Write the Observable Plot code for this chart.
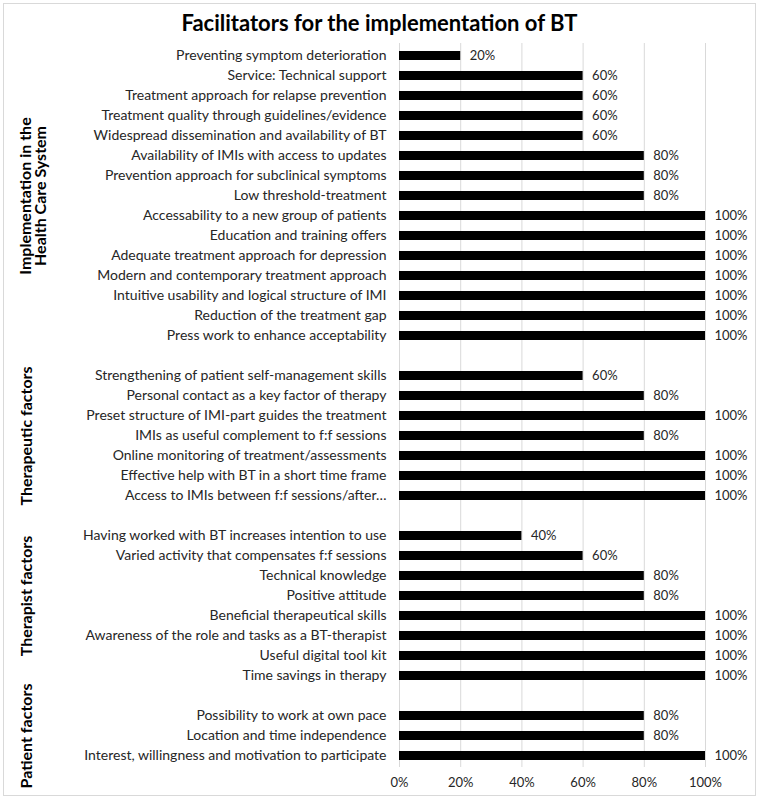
<!DOCTYPE html>
<html><head><meta charset="utf-8">
<script src="https://cdn.jsdelivr.net/npm/d3@7"></script>
<script src="https://cdn.jsdelivr.net/npm/@observablehq/plot@0.6"></script>
<style>
body{margin:0;background:#fff;font-family:Lato,"Liberation Sans",sans-serif;}
#frame{position:absolute;left:3px;top:3px;width:751px;height:791px;border:1px solid #d9d9d9;background:#fff;}
#title{height:34px;text-align:center;font-weight:bold;font-size:22px;line-height:38px;color:#000;}
#chart svg{display:block;}
</style></head><body>
<div id="frame"><div id="title">Facilitators for the implementation of BT</div><div id="chart"></div></div>
<script>
const groupNames = ["Implementation in the\nHealth Care System", "Therapeutic factors", "Therapist factors", "Patient factors"];

const implementationLabels = [
  "Preventing symptom deterioration",
  "Service: Technical support",
  "Treatment approach for relapse prevention",
  "Treatment quality through guidelines/evidence",
  "Widespread dissemination and availability of BT",
  "Availability of IMIs with access to updates",
  "Prevention approach for subclinical symptoms",
  "Low threshold-treatment",
  "Accessability to a new group of patients",
  "Education and training offers",
  "Adequate treatment approach for depression",
  "Modern and contemporary treatment approach",
  "Intuitive usability and logical structure of IMI",
  "Reduction of the treatment gap",
  "Press work to enhance acceptability"
];
const implementationValues = [20, 60, 60, 60, 60, 80, 80, 80, 100, 100, 100, 100, 100, 100, 100];

const therapeuticLabels = [
  "Strengthening of patient self-management skills",
  "Personal contact as a key factor of therapy",
  "Preset structure of IMI-part guides the treatment",
  "IMIs as useful complement to f:f sessions",
  "Online monitoring of treatment/assessments",
  "Effective help with BT in a short time frame",
  "Access to IMIs between f:f sessions/after…"
];
const therapeuticValues = [60, 80, 100, 80, 100, 100, 100];

const therapistLabels = [
  "Having worked with BT increases intention to use",
  "Varied activity that compensates f:f sessions",
  "Technical knowledge",
  "Positive attitude",
  "Beneficial therapeutical skills",
  "Awareness of the role and tasks as a BT-therapist",
  "Useful digital tool kit",
  "Time savings in therapy"
];
const therapistValues = [40, 60, 80, 80, 100, 100, 100, 100];

const patientLabels = [
  "Possibility to work at own pace",
  "Location and time independence",
  "Interest, willingness and motivation to participate"
];
const patientValues = [80, 80, 100];

const xTicks = [0, 20, 40, 60, 80, 100];

// build rows & band domain (with empty spacer rows between groups)
const labelSets = [implementationLabels, therapeuticLabels, therapistLabels, patientLabels];
const valueSets = [implementationValues, therapeuticValues, therapistValues, patientValues];
const rows = [];
const yDomain = [];
labelSets.forEach((labels, g) => {
  if (g > 0) yDomain.push("__gap" + g);
  labels.forEach((l, i) => { yDomain.push(l); rows.push({label: l, value: valueSets[g][i]}); });
});
const allLabels = labelSets.flat();

const groupsTwoLine = [{name: groupNames[0], anchor: implementationLabels[7]}];
const groupsOneLine = [
  {name: groupNames[1], anchor: therapeuticLabels[3]},
  {name: groupNames[2], anchor: therapistLabels[3]},
  {name: groupNames[3], anchor: patientLabels[1]}
];

const chart = Plot.plot({
  width: 751, height: 757,
  marginLeft: 395, marginRight: 50, marginTop: 5, marginBottom: 28,
  style: {fontFamily: "Lato, 'Liberation Sans', sans-serif", fontSize: "13px", color: "#262626", background: "#fff"},
  x: {domain: [0, 100], label: null},
  y: {domain: yDomain, paddingInner: 0.56, paddingOuter: 0.28, align: 0.5, label: null},
  marks: [
    Plot.gridX(xTicks, {stroke: "#d9d9d9", strokeOpacity: 1}),
    Plot.barX(rows, {x: "value", y: "label", fill: "#000"}),
    Plot.text(rows, {x: "value", y: "label", text: d => d.value + "%", textAnchor: "start", dx: 9, fill: "#262626", fontSize: 13}),
    Plot.axisY({ticks: allLabels, tickSize: 0, tickPadding: 13, label: null, fontSize: 14}),
    Plot.axisX({ticks: xTicks, tickSize: 0, tickPadding: 10, tickFormat: d => d + "%", label: null, fontSize: 13}),
    Plot.text(groupsTwoLine, {y: "anchor", text: "name", frameAnchor: "left", textAnchor: "middle", dx: -366, rotate: -90, fontWeight: "bold", fontSize: 16, lineHeight: 0.95, fill: "#000"}),
    Plot.text(groupsOneLine, {y: "anchor", text: "name", frameAnchor: "left", textAnchor: "middle", dx: -373, rotate: -90, fontWeight: "bold", fontSize: 16, fill: "#000"})
  ]
});
document.getElementById("chart").appendChild(chart);
</script>
</body></html>
